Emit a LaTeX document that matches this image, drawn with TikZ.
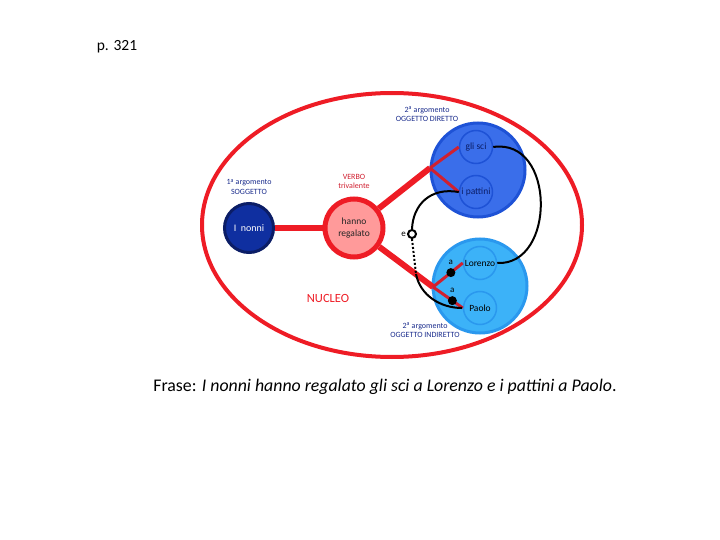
\documentclass[tikz,border=0pt]{standalone}
\usepackage{fontspec}
\setmainfont{Carlito}
\usetikzlibrary{positioning}

\definecolor{rosso}{HTML}{EE1C25}
\definecolor{rossoscuro}{HTML}{D02030}
\definecolor{rosa}{HTML}{FF9A9A}
\definecolor{blunotte}{HTML}{0F2FA0}
\definecolor{blubordo}{HTML}{0B1D66}
\definecolor{bluod}{HTML}{3A6EEA}
\definecolor{bluodbordo}{HTML}{1E52D6}
\definecolor{azzurro}{HTML}{3CB2F8}
\definecolor{azzurrobordo}{HTML}{2A98EE}
\definecolor{testoblu}{HTML}{1A2C8C}

\tikzset{
  etichetta/.style={font=\fontsize{8}{9.5}\selectfont, align=center},
  cerchio/.style={circle, inner sep=0pt, align=center},
  interno/.style={cerchio, minimum size=33pt, line width=1.5pt, font=\fontsize{9.5}{11}\selectfont},
  ramo/.style={rossoscuro, line width=3pt},
  tronco/.style={rosso, line width=6pt},
  puntino/.style={circle, fill=black, inner sep=0pt, minimum size=9pt},
  lettera/.style={font=\fontsize{9}{10}\selectfont, text=black, inner sep=1pt},
  legame/.style={black, line width=2pt}
}

\begin{document}
\begin{tikzpicture}[x=1pt, y=-1pt]
	\useasboundingbox (0,0) rectangle (720,540);
	\node at (117,47) {\fontsize{15.5}{18}\selectfont p. 321};
	
	% nucleo
	\draw[rosso, line width=4pt] (392,225) ellipse [x radius=190, y radius=132];
	\node[rosso, font=\fontsize{12.5}{14}\selectfont] (nucleo) at (328,298) {NUCLEO};
	
	% argomenti (cerchi grandi)
	\node[cerchio, minimum size=94pt, fill=bluod, draw=bluodbordo, line width=3pt] (od) at (478,170) {};
	\node[cerchio, minimum size=94pt, fill=azzurro, draw=azzurrobordo, line width=3pt] (oi) at (480,286) {};
	\node[interno, draw=bluodbordo, text=blubordo] (glisci) at (476,147) {gli sci};
	\node[interno, draw=bluodbordo, text=blubordo] (pattini) at (476,192) {i pattini};
	\node[interno, draw=azzurrobordo] (lorenzo) at (480,263) {Lorenzo};
	\node[interno, draw=azzurrobordo] (paolo) at (480,308) {Paolo};
	
	% soggetto e verbo
	\node[cerchio, minimum size=49pt, fill=blunotte, draw=blubordo, line width=3pt, text=white, font=\fontsize{10}{12}\selectfont] (nonni) at (249,228) {I\ \ nonni};
	\node[cerchio, minimum size=58pt, fill=rosa, draw=rosso, line width=5pt, text=black!85, font=\fontsize{9.5}{12}\selectfont] (verbo) at (354,228) {hanno\\regalato};
	
	% etichette
	\node[etichetta, text=testoblu, above=4pt of nonni] {1\textsuperscript{a} argomento\\SOGGETTO};
	\node[etichetta, text=rossoscuro, above=4pt of verbo] {VERBO\\trivalente};
	\node[etichetta, text=testoblu] at (427,114) {2\textsuperscript{a} argomento\\OGGETTO DIRETTO};
	\node[etichetta, text=testoblu] at (425,330) {2\textsuperscript{a} argomento\\OGGETTO INDIRETTO};
	
	% valenze
	\coordinate (forkod) at (430,168);
	\coordinate (forkoi) at (433,287);
	\draw[tronco] (nonni) -- (verbo);
	\draw[tronco] (verbo) -- (forkod);
	\draw[tronco] (verbo) -- (forkoi);
	\draw[ramo] (forkod) -- (glisci.west);
	\draw[ramo] (forkod) -- (pattini.west);
	\draw[ramo] (forkoi) -- (lorenzo.west) node[puntino, pos=0.6, label={[lettera]above:a}] (aL) {};
	\draw[ramo] (forkoi) -- (paolo.west) node[puntino, pos=0.65, label={[lettera]above:a}] (aP) {};
	
	% coordinazione
	\coordinate (dotfine) at (416,274);
	\node[circle, draw=black, fill=white, line width=2pt, inner sep=0pt, minimum size=8pt, label={[lettera]left:e}] (e) at (412,234) {};
	\draw[legame] (glisci.east) .. controls (556,138) and (556,266) .. (lorenzo.east);
	\draw[legame] (pattini.west) .. controls (430,187) and (413,205) .. (e.north);
	\draw[legame, dotted] (e.south) -- (dotfine);
	\draw[legame] (dotfine) .. controls (420,295) and (440,308) .. (462,308);
	
	% frase
	\node at (385,387) {\fontsize{17.8}{21}\selectfont Frase: \textit{I nonni hanno regalato gli sci a Lorenzo e i pattini a Paolo}.};
\end{tikzpicture}
\end{document}
